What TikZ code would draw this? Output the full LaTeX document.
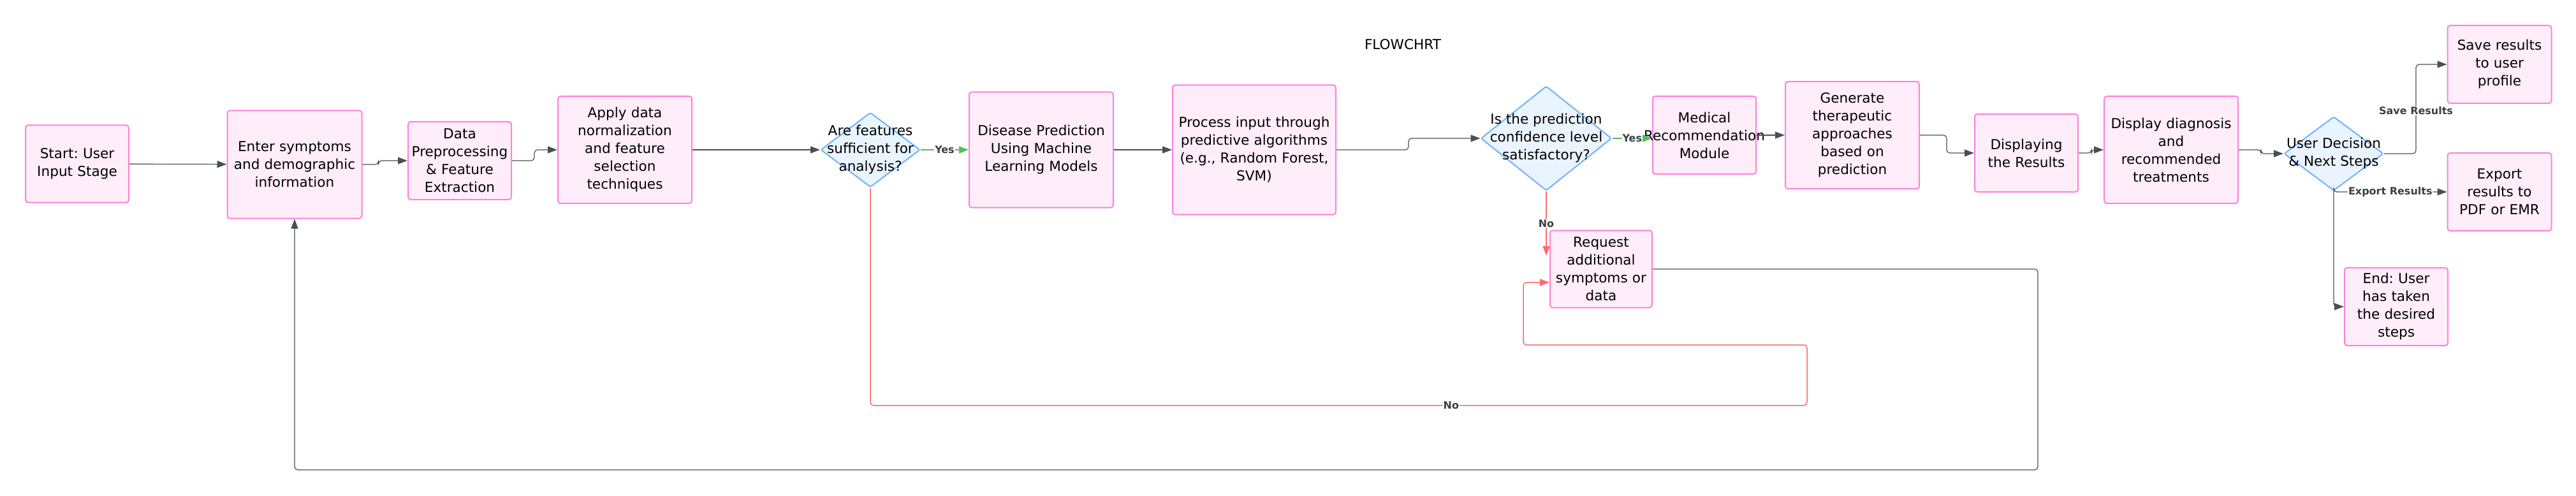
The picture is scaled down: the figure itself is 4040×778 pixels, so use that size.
\documentclass[tikz,border=0pt]{standalone}
\usepackage{fontspec}
\setmainfont{DejaVu Sans}
\usetikzlibrary{arrows.meta,shapes.geometric}
\frenchspacing

\definecolor{boxfill}{HTML}{FFEEF9}
\definecolor{boxline}{HTML}{FF80DD}
\definecolor{decfill}{HTML}{EAF4FF}
\definecolor{decline}{HTML}{70B2FF}
\definecolor{edgegray}{HTML}{4A4F57}
\definecolor{yesgreen}{HTML}{52C05A}
\definecolor{nored}{HTML}{FF6B6B}
\definecolor{lblgray}{HTML}{3A3F47}

\begin{document}
\begin{tikzpicture}[x=1pt, y=-1pt, >={Triangle[length=15pt,width=11pt]},
    box/.style={draw=boxline, fill=boxfill, line width=2pt, rounded corners=4pt,
        inner sep=0pt, align=center, font=\fontsize{21.6}{28}\selectfont},
    dec/.style={shape=diamond, draw=decline, fill=decfill, line width=2pt,
        rounded corners=3pt, inner sep=0pt},
    dectext/.style={align=center, font=\fontsize{21.6}{28}\selectfont},
    flow/.style={->, draw=edgegray, line width=1.2pt, rounded corners=5pt},
    yesflow/.style={->, draw=yesgreen, line width=2.5pt},
    noflow/.style={->, draw=nored, line width=1.5pt, rounded corners=5pt},
    lbl/.style={fill=white, text=lblgray, inner sep=1pt,
        font=\bfseries\fontsize{16}{18}\selectfont}]
    \useasboundingbox (0,0) rectangle (4040,778);

    \node[font=\fontsize{21.6}{26}\selectfont] (title) at (2200,70) {FLOWCHRT};

    % main row
    \node[box, text width=162pt, minimum height=121pt] (start) at (121,257)
        {Start: User\\Input Stage};
    \node[box, text width=211pt, minimum height=169pt] (enter) at (462,258)
        {Enter symptoms\\and demographic\\information};
    \node[box, text width=162pt, minimum height=122pt] (prep) at (721,252)
        {Data\\Preprocessing\\\& Feature\\Extraction};
    \node[box, text width=210pt, minimum height=168pt] (apply) at (980,235)
        {Apply data\\normalization\\and feature\\selection\\techniques};
    \node[dec, minimum width=156pt, minimum height=117pt,
        label={[dectext]center:{Are features\\sufficient for\\analysis?}}] (d1) at (1365,235) {};
    \node[box, text width=226pt, minimum height=181pt] (disease) at (1633,235)
        {Disease Prediction\\Using Machine\\Learning Models};
    \node[box, text width=256pt, minimum height=203pt] (process) at (1967,235)
        {Process input through\\predictive algorithms\\(e.g., Random Forest,\\SVM)};
    \node[dec, minimum width=205pt, minimum height=164pt,
        label={[dectext]center:{Is the prediction\\confidence level\\satisfactory?}}] (d2) at (2425,217) {};
    \node[box, text width=160pt, minimum height=121pt] (request) at (2511,422)
        {Request\\additional\\symptoms or\\data};
    \node[box, text width=162pt, minimum height=122pt] (medical) at (2673,212)
        {Medical\\\makebox[\linewidth]{Recommendation}\\Module};
    \node[box, text width=210pt, minimum height=168pt] (generate) at (2905,212)
        {Generate\\therapeutic\\approaches\\based on\\prediction};
    \node[box, text width=162pt, minimum height=122pt] (showres) at (3178,240)
        {Displaying\\the Results};
    \node[box, text width=210pt, minimum height=168pt] (display) at (3405,235)
        {Display diagnosis\\and\\recommended\\treatments};
    \node[dec, minimum width=156pt, minimum height=116pt,
        label={[dectext]center:{User Decision\\\& Next Steps}}] (d3) at (3660,241) {};
    \node[box, text width=163pt, minimum height=122pt] (save) at (3920,101)
        {Save results\\to user\\profile};
    \node[box, text width=163pt, minimum height=122pt] (export) at (3920,301)
        {Export\\results to\\PDF or EMR};
    \node[box, text width=162pt, minimum height=122pt] (finish) at (3758,481)
        {End: User\\has taken\\the desired\\steps};

    % connectors
    \draw[flow] (start) -- (enter);
    \draw[flow] (enter.east) -- ++(25,0) |- (prep.west);
    \draw[flow] (prep.east) -- ++(35,0) |- (apply.west);
    \draw[flow] (apply) -- (d1);
    \draw[yesflow] (d1.east) -- node[lbl] {Yes} (disease.west);
    \draw[flow] (disease) -- (process);
    \draw[flow] (process.east) -- ++(113,0) |- (d2.west);
    \draw[yesflow] (d2.east) -- node[lbl] {Yes} (d2.east -| medical.west);
    \draw[noflow] (d2.south) -- node[lbl] {No} ++(0,101);
    \draw[flow] (medical) -- (generate);
    \draw[flow] (generate.east) -- ++(42,0) |- (showres.west);
    \draw[flow] (showres.east) -- ++(20,0) |- (display.west);
    \draw[flow] (display.east) -- ++(35,0) |- (d3.west);
    \draw[flow] (d3.east) -- ++(50,0) |- node[lbl, pos=0.24] {Save Results} (save.west);
    \draw[flow] (d3.south) |- node[lbl, pos=0.75] {Export Results} (export.west);
    \draw[flow] (d3.south) |- (finish.west);

    % loops back
    \draw[noflow] (d1.south) |- node[lbl, pos=0.81] {No} (2834,636)
        |- (2389,541) |- ([yshift=-21pt]request.west);
    \draw[flow] (request.east) -| (3196,737) -| (enter.south);
\end{tikzpicture}
\end{document}
